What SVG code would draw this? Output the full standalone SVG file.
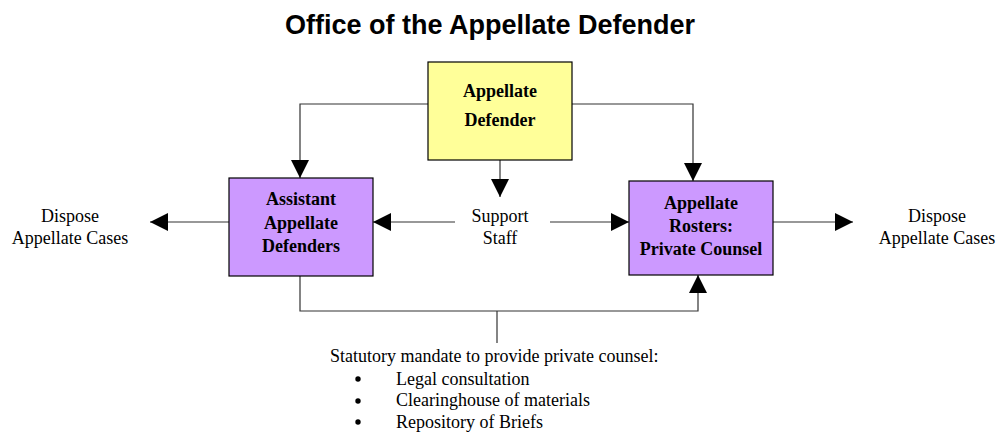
<svg xmlns="http://www.w3.org/2000/svg" width="1000" height="432" viewBox="0 0 1000 432">
<defs>
<marker id="ah" markerUnits="userSpaceOnUse" markerWidth="18" markerHeight="18" viewBox="0 0 18 18" refX="18" refY="9" orient="auto">
<path d="M0,0 L18,9 L0,18 Z" fill="#000"/>
</marker>
<style>
.title{font-family:"Liberation Sans",Arial,sans-serif;font-weight:bold;font-size:27px;fill:#000}
.box{stroke:#000;stroke-width:1.2}
.yel{fill:#FFFF99}
.pur{fill:#CC99FF}
.bt{font-family:"Liberation Serif","Times New Roman",serif;font-weight:bold;font-size:18px;fill:#000;text-anchor:middle}
.t{font-family:"Liberation Serif","Times New Roman",serif;font-size:18px;fill:#000}
.c{text-anchor:middle}
.ln{fill:none;stroke:#333;stroke-width:1.2}
</style>
</defs>
<rect width="1000" height="432" fill="#fff"/>
<text class="title" x="490" y="34" text-anchor="middle">Office of the Appellate Defender</text>

<g id="connectors">
<polyline class="ln" points="428,104 300,104 300,178" marker-end="url(#ah)"/>
<polyline class="ln" points="572,104 693,104 693,181" marker-end="url(#ah)"/>
<line class="ln" x1="500" y1="160" x2="500" y2="197" marker-end="url(#ah)"/>
<line class="ln" x1="229" y1="222" x2="150" y2="222" marker-end="url(#ah)"/>
<line class="ln" x1="455" y1="222" x2="373" y2="222" marker-end="url(#ah)"/>
<line class="ln" x1="550" y1="222" x2="629" y2="222" marker-end="url(#ah)"/>
<line class="ln" x1="773" y1="222" x2="853" y2="222" marker-end="url(#ah)"/>
<polyline class="ln" points="300,276 300,311 698,311 698,275" marker-end="url(#ah)"/>
<line class="ln" x1="497" y1="311" x2="497" y2="343"/>
</g>

<g id="appellate-defender">
<rect class="box yel" x="428" y="62" width="144" height="98"/>
<text class="bt" x="500" y="97">Appellate</text>
<text class="bt" x="500" y="126">Defender</text>
</g>

<g id="assistant">
<rect class="box pur" x="229" y="178" width="144" height="98"/>
<text class="bt" x="301" y="205">Assistant</text>
<text class="bt" x="301" y="229">Appellate</text>
<text class="bt" x="301" y="252">Defenders</text>
</g>

<g id="rosters">
<rect class="box pur" x="629" y="181" width="144" height="94"/>
<text class="bt" x="701" y="209">Appellate</text>
<text class="bt" x="701" y="232">Rosters:</text>
<text class="bt" x="701" y="255">Private Counsel</text>
</g>

<g id="support-staff">
<text class="t c" x="500" y="222">Support</text>
<text class="t c" x="500" y="244">Staff</text>
</g>

<g id="dispose-left">
<text class="t c" x="70" y="222">Dispose</text>
<text class="t c" x="70" y="244">Appellate Cases</text>
</g>

<g id="dispose-right">
<text class="t c" x="937" y="222">Dispose</text>
<text class="t c" x="937" y="244">Appellate Cases</text>
</g>

<g id="mandate">
<text class="t" x="330" y="362">Statutory mandate to provide private counsel:</text>
<circle cx="358" cy="379" r="2.7" fill="#000"/>
<text class="t" x="396" y="385">Legal consultation</text>
<circle cx="358" cy="401" r="2.7" fill="#000"/>
<text class="t" x="396" y="406">Clearinghouse of materials</text>
<circle cx="358" cy="422" r="2.7" fill="#000"/>
<text class="t" x="396" y="428">Repository of Briefs</text>
</g>
</svg>
